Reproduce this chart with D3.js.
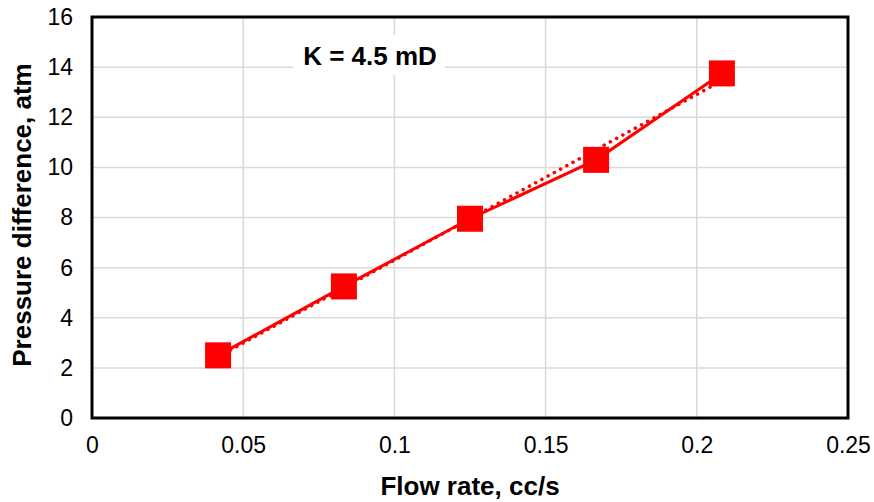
<!DOCTYPE html>
<html>
<head>
<meta charset="utf-8">
<script src="https://cdn.jsdelivr.net/npm/d3@7"></script>
<style>
  body { margin: 0; background: #fff; }
  svg text { font-family: "Liberation Sans", Arial, sans-serif; fill: #000; }
</style>
</head>
<body>
<svg id="chart" width="874" height="502"></svg>
<script>
// flow rate vs pressure difference, K = 4.5 mD

var flowRate = [0.0417, 0.0833, 0.125, 0.1667, 0.2083];
var pressureDiff = [2.5, 5.25, 7.95, 10.3, 13.75];
var xTicks = [0, 0.05, 0.1, 0.15, 0.2, 0.25];
var yTicks = [0, 2, 4, 6, 8, 10, 12, 14, 16];

var svg = d3.select("#chart"),
    margin = {top: 17, right: 26, bottom: 84, left: 92},
    width = 874 - margin.left - margin.right,
    height = 502 - margin.top - margin.bottom,
    g = svg.append("g").attr("transform", "translate(" + margin.left + "," + margin.top + ")");

var x = d3.scaleLinear().domain([0, 0.25]).range([0, width]);
var y = d3.scaleLinear().domain([0, 16]).range([height, 0]);

// gridlines
g.append("g").selectAll("line.h")
    .data(yTicks.slice(1, -1))
    .enter().append("line")
    .attr("x1", 0).attr("x2", width)
    .attr("y1", function(d) { return y(d) }).attr("y2", function(d) { return y(d) })
    .attr("stroke", "#d9d9d9").attr("stroke-width", 1.5);
g.append("g").selectAll("line.v")
    .data(xTicks.slice(1, -1))
    .enter().append("line")
    .attr("y1", 0).attr("y2", height)
    .attr("x1", function(d) { return x(d) }).attr("x2", function(d) { return x(d) })
    .attr("stroke", "#d9d9d9").attr("stroke-width", 1.5);

// axes (labels only, the frame is drawn below)
var xAxis = g.append("g")
    .attr("transform", "translate(0," + height + ")")
    .call(d3.axisBottom(x).tickValues(xTicks).tickSize(0).tickPadding(19).tickFormat(function(d) { return d3.format("")(+d.toFixed(2)) }));
var yAxis = g.append("g")
    .call(d3.axisLeft(y).tickValues(yTicks).tickSize(0).tickPadding(19));
[xAxis, yAxis].forEach(function(a) {
    a.select(".domain").remove();
    a.selectAll("text").attr("font-size", 23).attr("font-family", "Liberation Sans, Arial, sans-serif").attr("fill", "#000");
});

// label box
g.append("rect").attr("x", 293 - margin.left).attr("y", 35 - margin.top)
    .attr("width", 152).attr("height", 40).attr("fill", "#fff");
g.append("text").attr("x", 370 - margin.left).attr("y", 65 - margin.top)
    .attr("text-anchor", "middle").attr("font-size", 26).attr("font-weight", "bold")
    .text("K = 4.5 mD");

// linear trendline (least squares)
var mx = d3.mean(flowRate), my = d3.mean(pressureDiff);
var sxy = d3.sum(flowRate, function(d, i) { return (d - mx) * (pressureDiff[i] - my) });
var sxx = d3.sum(flowRate, function(d) { return (d - mx) * (d - mx) });
var slope = sxy / sxx, icpt = my - slope * mx;
var xs = d3.extent(flowRate);
g.append("line")
    .attr("x1", x(xs[0])).attr("y1", y(icpt + slope * xs[0]))
    .attr("x2", x(xs[1])).attr("y2", y(icpt + slope * xs[1]))
    .attr("stroke", "#ff0000").attr("stroke-width", 3.5)
    .attr("stroke-linecap", "round").attr("stroke-dasharray", "0.1 7");

// data line
var pts = flowRate.map(function(d, i) { return [d, pressureDiff[i]] });
g.append("path").datum(pts)
    .attr("fill", "none").attr("stroke", "#ff0000").attr("stroke-width", 3)
    .attr("d", d3.line().x(function(d) { return x(d[0]) }).y(function(d) { return y(d[1]) }));

// square markers
var ms = 26;
g.append("g").selectAll("rect")
    .data(pts)
    .enter().append("rect")
    .attr("x", function(d) { return x(d[0]) - ms / 2 })
    .attr("y", function(d) { return y(d[1]) - ms / 2 })
    .attr("width", ms).attr("height", ms)
    .attr("fill", "#ff0000");

// frame
g.append("rect").attr("x", 0).attr("y", 0).attr("width", width).attr("height", height)
    .attr("fill", "none").attr("stroke", "#000").attr("stroke-width", 3);

// axis titles
svg.append("text").attr("x", 470).attr("y", 495)
    .attr("text-anchor", "middle").attr("font-size", 26).attr("font-weight", "bold")
    .text("Flow rate, cc/s");
svg.append("text").attr("transform", "translate(31,215) rotate(-90)")
    .attr("text-anchor", "middle").attr("font-size", 26).attr("font-weight", "bold")
    .text("Pressure difference, atm");
</script>
</body>
</html>
